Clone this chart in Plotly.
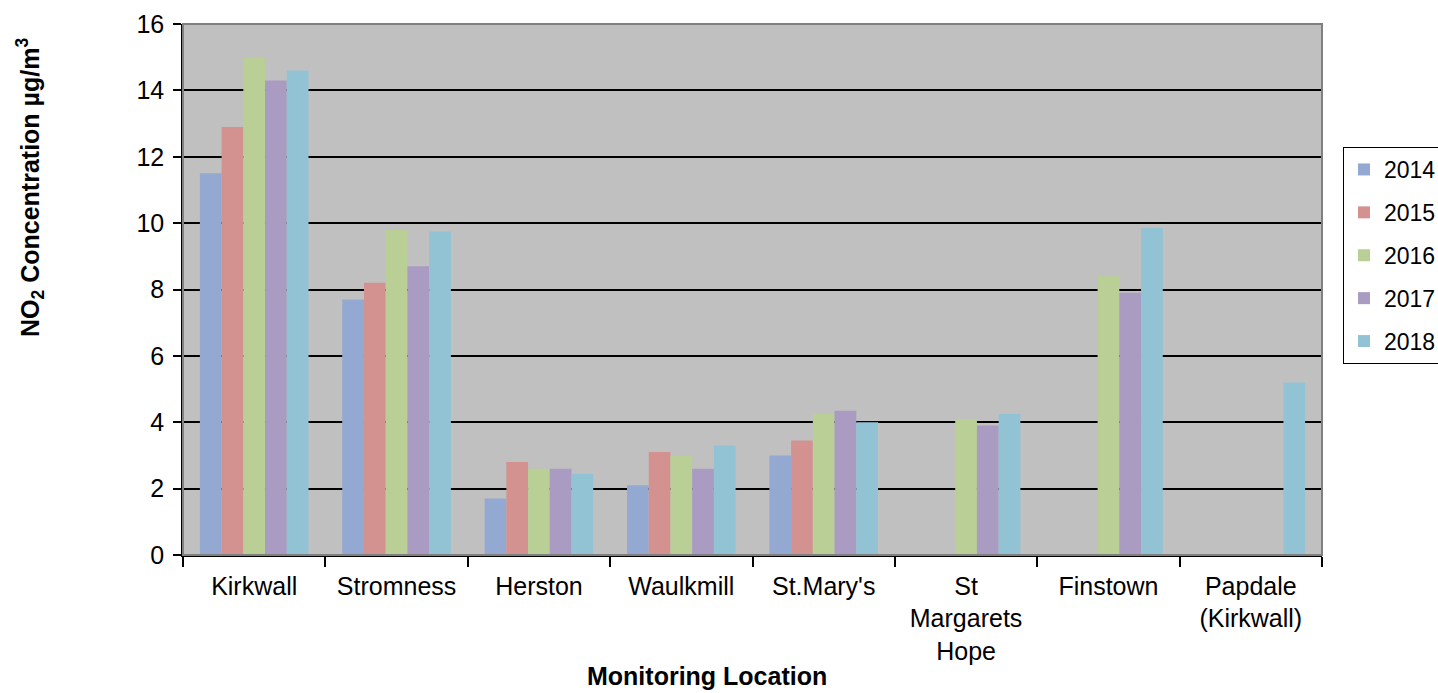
import plotly.graph_objects as go

categories = ["Kirkwall", "Stromness", "Herston", "Waulkmill", "St.Mary's",
              "St<br>Margarets<br>Hope", "Finstown", "Papdale<br>(Kirkwall)"]
years = ["2014", "2015", "2016", "2017", "2018"]
v2014 = [11.5, 7.7, 1.7, 2.1, 3.0, None, None, None]
v2015 = [12.9, 8.2, 2.8, 3.1, 3.45, None, None, None]
v2016 = [15.0, 9.8, 2.6, 3.0, 4.25, 4.1, 8.4, None]
v2017 = [14.3, 8.7, 2.6, 2.6, 4.35, 3.9, 7.9, None]
v2018 = [14.6, 9.75, 2.45, 3.3, 4.0, 4.25, 9.85, 5.2]
series = [v2014, v2015, v2016, v2017, v2018]
colors = ["#94A9D2", "#D39190", "#B9CF95", "#A99BC1", "#91C3D5"]
y_ticks = [0, 2, 4, 6, 8, 10, 12, 14, 16]

FONT = "Liberation Sans, Arial, sans-serif"

fig = go.Figure()
for i, (yr, vals) in enumerate(zip(years, series)):
    fig.add_trace(go.Bar(x=categories, y=vals, name=yr, legendgroup=yr,
                         marker=dict(color=colors[i], line=dict(width=0))))

fig.update_layout(
    width=1438, height=693,
    margin=dict(l=183, r=116, t=24, b=138, autoexpand=False),
    paper_bgcolor="white", plot_bgcolor="#C0C0C0",
    barmode="group", bargap=0.237, bargroupgap=0,
    font=dict(family=FONT, size=24, color="black"),
    legend=dict(x=(1343 - 183) / 1139, y=(555 - 147) / 531, xanchor="left", yanchor="top",
                bordercolor="black", borderwidth=1, bgcolor="white",
                font=dict(size=23), tracegroupgap=10),
    xaxis=dict(showline=True, linecolor="black", linewidth=1.5,
               ticks="outside", tickson="boundaries", ticklen=10,
               tickcolor="black", tickwidth=1.5,
               tickfont=dict(size=25), ticklabelstandoff=8),
    yaxis=dict(range=[0, 16], tickvals=y_ticks, showgrid=True,
               gridcolor="black", gridwidth=1.5, zeroline=False,
               showline=True, linecolor="black", linewidth=1.5,
               ticks="outside", ticklen=8, tickcolor="black", tickwidth=1.5,
               tickfont=dict(size=25), ticklabelstandoff=4),
    shapes=[dict(type="rect", xref="paper", yref="paper", x0=0, x1=1, y0=0, y1=1,
                 line=dict(color="#808080", width=2), layer="above")],
    annotations=[
        dict(text="<b>Monitoring Location</b>", xref="paper", yref="paper",
             x=(707 - 183) / 1139, y=-(692 - 555) / 531, xanchor="center", yanchor="bottom",
             showarrow=False, font=dict(size=25)),
        dict(text="<b>NO<sub>2</sub> Concentration µg/m<sup>3</sup></b>", xref="paper", yref="paper",
             x=-(183 - 30) / 1139, y=(555 - 188) / 531, xanchor="center", yanchor="middle",
             textangle=-90, showarrow=False, font=dict(size=25)),
    ],
)

fig.write_html("out.html")
